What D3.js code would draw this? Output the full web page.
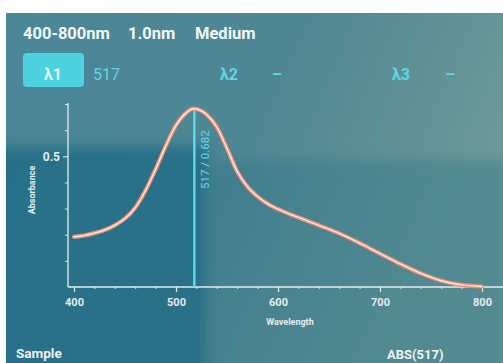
<!DOCTYPE html>
<html>
<head>
<meta charset="utf-8">
<script src="https://cdn.jsdelivr.net/npm/d3@7"></script>
<style>
  html, body { margin: 0; padding: 0; background: #fff; }
  svg { display: block; }
  text { font-family: Roboto, "Open Sans", sans-serif; }
</style>
</head>
<body>
<div id="chart"></div>
<script>
// spectrum scan
const wavelengths = [400, 410, 420, 430, 440, 450, 460, 470, 480, 490, 500, 510, 517, 525, 530, 540, 550, 560, 570, 580, 590, 600, 620, 640, 660, 680, 700, 720, 740, 760, 780, 800];
const absorbance = [0.192, 0.197, 0.206, 0.218, 0.236, 0.262, 0.303, 0.368, 0.45, 0.54, 0.618, 0.666, 0.682, 0.674, 0.66, 0.612, 0.53, 0.442, 0.384, 0.346, 0.318, 0.298, 0.266, 0.236, 0.205, 0.168, 0.128, 0.088, 0.052, 0.024, 0.008, 0.002];

const xMajor = [400, 500, 600, 700, 800];
const xMinor = d3.range(400, 801, 20);
const yMajor = [0.5];
const yMinor = [0.1, 0.2, 0.3, 0.4, 0.6, 0.7];

const peakWl = 517;
const peakAbs = 0.682;

const headerItems = ['400-800nm', '1.0nm', 'Medium'];
const lambdaLabels = ['λ1', 'λ2', 'λ3'];
const lambdaValues = ['517', '–', '–'];

const width = 503;
const height = 363;

const svg = d3.select('#chart').append('svg')
  .attr('width', width)
  .attr('height', height);

const defs = svg.append('defs');
const bg = defs.append('linearGradient').attr('id', 'bg')
  .attr('x1', 0).attr('y1', 0).attr('x2', 1).attr('y2', 0.3);
bg.append('stop').attr('offset', '0%').attr('stop-color', '#4a8798');
bg.append('stop').attr('offset', '55%').attr('stop-color', '#4f8693');
bg.append('stop').attr('offset', '100%').attr('stop-color', '#6c9897');

defs.append('filter').attr('id', 'soft')
  .attr('x', '-20%').attr('y', '-20%').attr('width', '140%').attr('height', '140%')
  .append('feGaussianBlur').attr('stdDeviation', 6);

defs.append('filter').attr('id', 'glow')
  .append('feGaussianBlur').attr('stdDeviation', 0.6);

// screen
svg.append('rect').attr('x', 0).attr('y', 0).attr('width', width).attr('height', height).attr('fill', '#fff');
svg.append('rect').attr('x', 6).attr('y', 13).attr('width', width - 6).attr('height', height - 13).attr('fill', 'url(#bg)');
// darker reflection patch lower left
svg.append('rect').attr('x', -10).attr('y', 146).attr('width', 218).attr('height', 240)
  .attr('fill', '#1f6a84').attr('opacity', 0.75).attr('filter', 'url(#soft)');
svg.append('rect').attr('x', 208).attr('y', 160).attr('width', 300).attr('height', 220)
  .attr('fill', '#2f7689').attr('opacity', 0.4).attr('filter', 'url(#soft)');
svg.append('rect').attr('x', 0).attr('y', 13).attr('width', 6).attr('height', height).attr('fill', '#fff');

// header
const headerX = [23, 128, 195];
svg.selectAll('.hdr').data(headerItems).enter().append('text')
  .attr('class', 'hdr')
  .attr('x', (d, i) => headerX[i])
  .attr('y', 39)
  .attr('fill', '#f4f7f7')
  .attr('font-size', 16.5)
  .attr('font-weight', 'bold')
  .text(d => d);

// wavelength selectors
svg.append('rect').attr('x', 23).attr('y', 53).attr('width', 61).attr('height', 34).attr('rx', 4)
  .attr('fill', '#4fd2e0');
const lamX = [53, 229, 401];
const valX = [93, 272, 445];
svg.selectAll('.lam').data(lambdaLabels).enter().append('text')
  .attr('class', 'lam')
  .attr('x', (d, i) => lamX[i])
  .attr('y', 80)
  .attr('text-anchor', 'middle')
  .attr('fill', (d, i) => i === 0 ? '#d8f6f9' : '#5fd6e6')
  .attr('font-size', 16)
  .attr('font-weight', 'bold')
  .text(d => d);
svg.selectAll('.lamv').data(lambdaValues).enter().append('text')
  .attr('class', 'lamv')
  .attr('x', (d, i) => valX[i])
  .attr('y', 80)
  .attr('fill', '#5fd6e6')
  .attr('font-size', 16)
  .attr('font-weight', (d, i) => i === 0 ? 'normal' : 'bold')
  .text(d => d);

// scales
const x = d3.scaleLinear().domain([400, 800]).range([74, 482]);
const y = d3.scaleLinear().domain([0, 0.7]).range([287, 104]);

const axisColor = '#e4ecee';

// axis lines
svg.append('line').attr('x1', 68).attr('x2', 68).attr('y1', 103).attr('y2', 287)
  .attr('stroke', axisColor).attr('stroke-width', 1.3);
svg.append('line').attr('x1', 68).attr('x2', width).attr('y1', 287).attr('y2', 287)
  .attr('stroke', axisColor).attr('stroke-width', 1.3);

// x ticks
const xAxisMinor = d3.axisBottom(x).tickValues(xMinor).tickSize(2).tickFormat('');
const gxm = svg.append('g').attr('transform', 'translate(0,287)').call(xAxisMinor);
gxm.select('.domain').remove();
gxm.selectAll('line').attr('stroke', axisColor);

const xAxis = d3.axisBottom(x).tickValues(xMajor).tickSize(5).tickPadding(6).tickFormat(d3.format('d'));
const gx = svg.append('g').attr('transform', 'translate(0,287)').call(xAxis);
gx.select('.domain').remove();
gx.selectAll('line').attr('stroke', axisColor).attr('stroke-width', 1.2);
gx.selectAll('text').attr('fill', '#e6eced').attr('font-size', 11).attr('font-weight', 'bold')
  .attr('font-family', 'Roboto, sans-serif');

// y ticks
const yAxisMinor = d3.axisLeft(y).tickValues(yMinor).tickSize(3).tickFormat('');
const gym = svg.append('g').attr('transform', 'translate(68,0)').call(yAxisMinor);
gym.select('.domain').remove();
gym.selectAll('line').attr('stroke', axisColor);

const yAxis = d3.axisLeft(y).tickValues(yMajor).tickSize(5).tickPadding(3).tickFormat(d3.format('.1f'));
const gy = svg.append('g').attr('transform', 'translate(68,0)').call(yAxis);
gy.select('.domain').remove();
gy.selectAll('line').attr('stroke', axisColor).attr('stroke-width', 1.2);
gy.selectAll('text').attr('fill', '#e6eced').attr('font-size', 12).attr('font-weight', 'bold')
  .attr('font-family', 'Roboto, sans-serif');

// axis titles
svg.append('text')
  .attr('transform', 'translate(35,190) rotate(-90)')
  .attr('text-anchor', 'middle')
  .attr('fill', '#e8eef0')
  .attr('font-size', 9)
  .attr('font-weight', 'bold')
  .text('Absorbance');
svg.append('text')
  .attr('x', 290).attr('y', 325)
  .attr('text-anchor', 'middle')
  .attr('fill', '#e8eef0')
  .attr('font-size', 9)
  .attr('font-weight', 'bold')
  .text('Wavelength');

// peak marker
svg.append('line')
  .attr('x1', x(peakWl) + 1).attr('x2', x(peakWl) + 1)
  .attr('y1', y(peakAbs)).attr('y2', 287)
  .attr('stroke', '#56dbe8').attr('stroke-width', 2.5);

// spectrum line
const pts = wavelengths.map((w, i) => [w, absorbance[i]]);
const line = d3.line()
  .x(d => x(d[0]))
  .y(d => y(d[1]))
  .curve(d3.curveMonotoneX);

svg.append('path').datum(pts)
  .attr('d', line)
  .attr('fill', 'none')
  .attr('stroke', '#e98f78')
  .attr('stroke-width', 4.2)
  .attr('stroke-linecap', 'round')
  .attr('filter', 'url(#glow)');
svg.append('path').datum(pts)
  .attr('d', line)
  .attr('fill', 'none')
  .attr('stroke', '#ffe9e2')
  .attr('stroke-width', 1.4)
  .attr('stroke-linecap', 'round');

svg.append('text')
  .attr('transform', `translate(${x(peakWl) + 16},189) rotate(-90)`)
  .attr('fill', '#5fdbe8')
  .attr('font-size', 11.5)
  .text(`${peakWl} / ${peakAbs}`);

// footer
svg.append('text').attr('x', 16).attr('y', 358)
  .attr('fill', '#eef3f4').attr('font-size', 13.5).attr('font-weight', 'bold')
  .text('Sample');
svg.append('text').attr('x', 387).attr('y', 359)
  .attr('fill', '#eef3f4').attr('font-size', 13).attr('font-weight', 'bold')
  .text(`ABS(${peakWl})`);
</script>
</body>
</html>
